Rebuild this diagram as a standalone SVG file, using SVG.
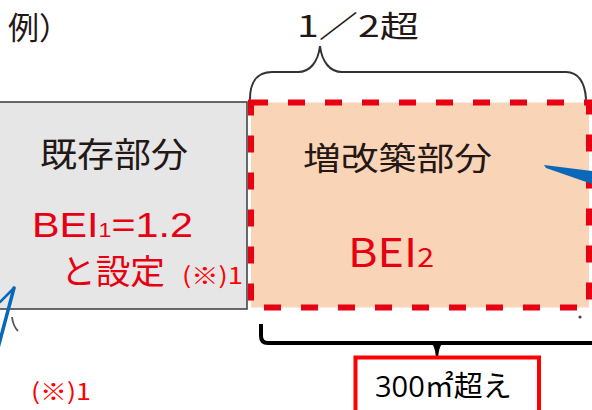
<svg xmlns="http://www.w3.org/2000/svg" width="592" height="410" viewBox="0 0 592 410">
  <style>
    text { font-family: "Noto Sans CJK JP", "Noto Sans", sans-serif; }
    .latin { font-family: "Liberation Sans", "Noto Sans CJK JP", sans-serif; }
    .dark { fill: #231815; }
    .red { fill: #e60012; }
    .brightred { fill: #ff0000; }
    .brace { fill: none; stroke: #333333; stroke-width: 2; stroke-linecap: round; }
    .blue { fill: none; stroke: #0a68b8; stroke-linecap: round; }
  </style>
  <rect x="0" y="0" width="592" height="410" fill="#ffffff"/>

  <g id="label-example">
    <text class="dark" x="8" y="39" font-size="31">例）</text>
  </g>

  <g id="existing-part">
    <rect x="-2" y="102" width="249" height="207" fill="#e6e6e6" stroke="#3a3a3a" stroke-width="1.5"/>
    <text class="dark" x="40" y="167" font-size="34" textLength="148" lengthAdjust="spacingAndGlyphs">既存部分</text>
    <text class="red latin" x="32" y="236.5" font-size="35.5" textLength="161" lengthAdjust="spacingAndGlyphs">BEI<tspan font-size="20">1</tspan>=1.2</text>
    <text class="red" x="61" y="283.5" font-size="34" textLength="104" lengthAdjust="spacingAndGlyphs">と設定</text>
    <text class="brightred" x="182" y="284" font-size="23" textLength="61" lengthAdjust="spacingAndGlyphs">(※)1</text>
  </g>

  <g id="extension-part">
    <rect x="251" y="102.5" width="338" height="205" fill="#f9d4b7" stroke="#e60012" stroke-width="6" stroke-dasharray="17 20"/>
    <text class="dark" x="303" y="170" font-size="32" textLength="189" lengthAdjust="spacingAndGlyphs">増改築部分</text>
    <text class="red" x="348" y="267" font-size="40" textLength="86" lengthAdjust="spacingAndGlyphs">BEI<tspan font-size="27">2</tspan></text>
  </g>

  <g id="ratio-label">
    <text class="dark" x="297" y="37" font-size="30" textLength="122" lengthAdjust="spacingAndGlyphs">1／2超</text>
  </g>

  <g id="connectors">
    <path class="brace" d="M250,99 C250,84 256,72 272,72 L298,72 C310,72 318,62 320,46 C322,62 330,72 342,72 L566,72 C578,72 585,82 586,99"/>
    <path d="M261,324 L261,336 Q261,343 268,343 L596,343" fill="none" stroke="#000000" stroke-width="4"/>
    <path d="M431,343 Q436,347 436,362 L438,362 Q438,347 443,343 Z" fill="#000000"/>
    <path class="blue" d="M0,302 L14,288" stroke-width="2.5"/>
    <path class="blue" d="M14,288 L-2,348" stroke-width="3.5"/>
    <polygon points="544,165 592,171 592,184 546,168" fill="#0a68b8"/>
    <path d="M12,317 Q13,326 18,331" fill="none" stroke="#555555" stroke-width="1.8"/>
    <circle cx="580" cy="317" r="1.6" fill="#444444"/>
  </g>

  <g id="area-label">
    <rect x="355.5" y="357.5" width="183.5" height="70" fill="#ffffff" stroke="#ff0000" stroke-width="4"/>
    <text x="375" y="397" font-size="29" fill="#000000"><tspan font-family="Open Sans, Noto Sans CJK JP, sans-serif">300</tspan>㎡超え</text>
  </g>

  <g id="note-1">
    <text class="brightred" x="31" y="400" font-size="23" textLength="60" lengthAdjust="spacingAndGlyphs">(※)1</text>
  </g>
</svg>
